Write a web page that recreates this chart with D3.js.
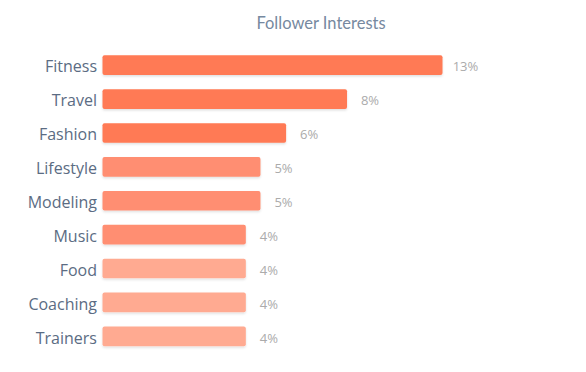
<!DOCTYPE html>
<html>
<head>
<meta charset="utf-8">
<script src="https://cdn.jsdelivr.net/npm/d3@7"></script>
<style>
  html, body { margin: 0; padding: 0; background: #fff; }
  svg { display: block; }
</style>
</head>
<body>
<svg width="586" height="372"></svg>
<script>
// follower interests, top to bottom
let categories = ['Fitness', 'Travel', 'Fashion', 'Lifestyle', 'Modeling', 'Music', 'Food', 'Coaching', 'Trainers']
// bar lengths (percent)
let values = [13, 9.35, 7.02, 6.04, 6.04, 5.48, 5.48, 5.48, 5.48]
// the percentages printed next to the bars
let valueLabels = ['13%', '8%', '6%', '5%', '5%', '4%', '4%', '4%', '4%']
let tiers = ['high', 'high', 'high', 'mid', 'mid', 'mid', 'low', 'low', 'low']

let tierColor = d3.scaleOrdinal()
  .domain(['high', 'mid', 'low'])
  .range(['#ff7a55', '#ff8e72', '#ffaa91'])

let svg = d3.select('svg')

let x = d3.scaleLinear()
  .domain([0, d3.max(values)])
  .range([102.5, 442.5])

let y = d3.scaleBand()
  .domain(categories)
  .range([41.1, 360.4])
  .padding(0.42)

// soft shadow under the bars
let defs = svg.append('defs')
let shadow = defs.append('filter')
  .attr('id', 'bar-shadow')
  .attr('x', '-5%').attr('y', '-30%')
  .attr('width', '110%').attr('height', '170%')
shadow.append('feDropShadow')
  .attr('dx', 0).attr('dy', 1.5)
  .attr('stdDeviation', 1.2)
  .attr('flood-color', '#000')
  .attr('flood-opacity', 0.12)

svg.append('text')
  .attr('x', 321)
  .attr('y', 28.5)
  .attr('text-anchor', 'middle')
  .attr('font-family', 'Lato, sans-serif')
  .attr('font-size', 16.5)
  .attr('fill', '#7689a0')
  .text('Follower Interests')

let rows = svg.selectAll('g.row')
  .data(categories)
  .enter().append('g')
  .attr('class', 'row')

rows.append('rect')
  .attr('x', x(0))
  .attr('y', function (d) { return y(d) })
  .attr('width', function (d, i) { return x(values[i]) - x(0) })
  .attr('height', y.bandwidth())
  .attr('rx', 2)
  .attr('fill', function (d, i) { return tierColor(tiers[i]) })
  .attr('filter', 'url(#bar-shadow)')

rows.append('text')
  .attr('x', 97)
  .attr('y', function (d) { return y(d) + y.bandwidth() / 2 })
  .attr('dy', '0.45em')
  .attr('text-anchor', 'end')
  .attr('font-family', 'Open Sans, sans-serif')
  .attr('font-size', 16)
  .attr('fill', '#5b6c83')
  .text(function (d) { return d })

rows.append('text')
  .attr('x', function (d, i) { return x(values[i]) + 23 })
  .attr('y', function (d) { return y(d) + y.bandwidth() / 2 })
  .attr('dy', '0.48em')
  .attr('text-anchor', 'middle')
  .attr('font-family', 'Open Sans, sans-serif')
  .attr('font-size', 13)
  .attr('fill', '#ababab')
  .text(function (d, i) { return valueLabels[i] })
</script>
</body>
</html>
